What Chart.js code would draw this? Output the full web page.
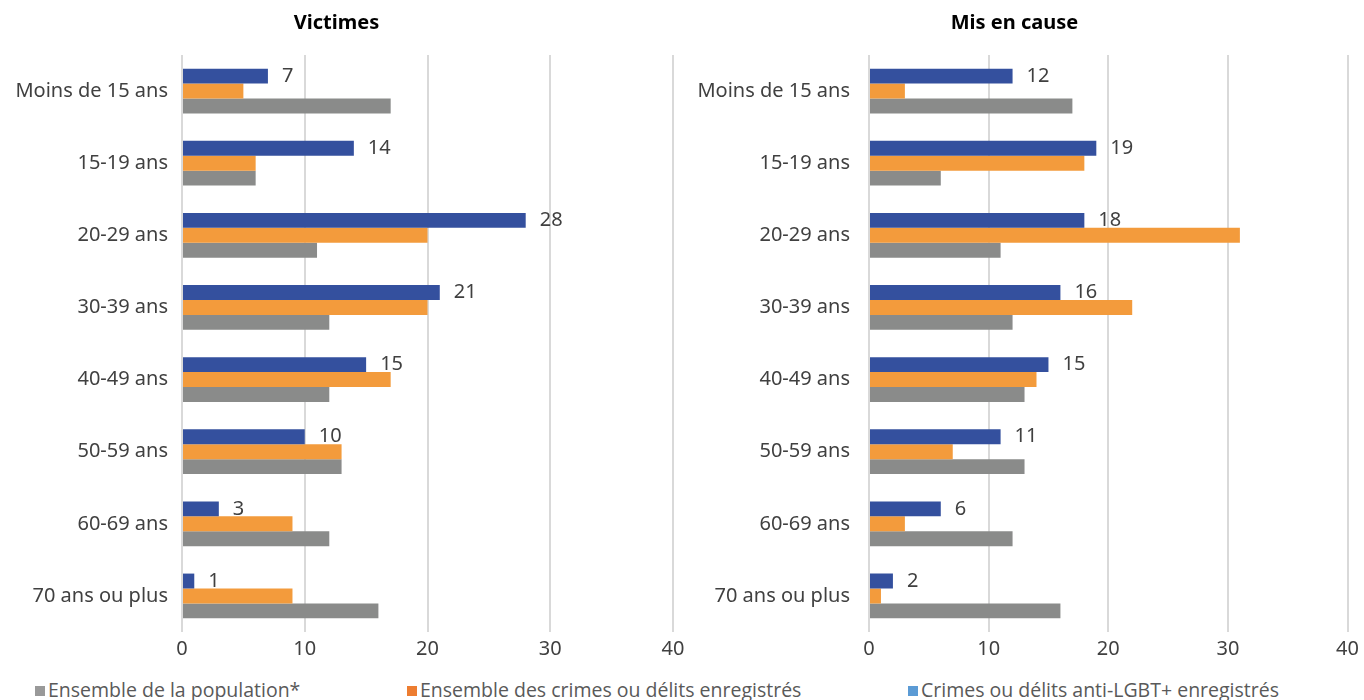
<!DOCTYPE html>
<html lang="fr">
<head>
<meta charset="utf-8">
<title>Victimes et mis en cause par âge</title>
<script src="https://cdn.jsdelivr.net/npm/chart.js@4.4.1/dist/chart.umd.min.js"></script>
<style>
  html, body { margin: 0; padding: 0; background: #fff; }
  body { width: 1364px; height: 700px; position: relative; overflow: hidden; font-family: "Open Sans", sans-serif; }
  .box { position: absolute; top: 0; height: 666px; }
  #boxLeft { left: 0; width: 690px; }
  #boxRight { left: 680px; width: 684px; }
  .legend-item { position: absolute; top: 678px; font-size: 19.5px; color: #595959; white-space: nowrap; line-height: 24px; }
  .legend-item span { display: inline-block; width: 10px; height: 10px; margin-right: 3px; vertical-align: 1px; }
</style>
</head>
<body>
<div class="box" id="boxLeft"><canvas id="chartVictimes"></canvas></div>
<div class="box" id="boxRight"><canvas id="chartMisEnCause"></canvas></div>

<div class="legend-item" style="left:35px"><span style="background:#999999"></span>Ensemble de la population*</div>
<div class="legend-item" style="left:407px"><span style="background:#ED7D31"></span>Ensemble des crimes ou délits enregistrés</div>
<div class="legend-item" style="left:908px"><span style="background:#5B9BD5"></span>Crimes ou délits anti-LGBT+ enregistrés</div>

<script>
// Tranches d'âge
const trancheAge = ['Moins de 15 ans', '15-19 ans', '20-29 ans', '30-39 ans', '40-49 ans', '50-59 ans', '60-69 ans', '70 ans ou plus'];
const ticksX = [0, 10, 20, 30, 40];

// Victimes (en %)
const victimesLGBT = [7, 14, 28, 21, 15, 10, 3, 1];
const victimesCrimes = [5, 6, 20, 20, 17, 13, 9, 9];
const victimesPopulation = [17, 6, 11, 12, 12, 13, 12, 16];

// Mis en cause (en %)
const misLGBT = [12, 19, 18, 16, 15, 11, 6, 2];
const misCrimes = [3, 18, 31, 22, 14, 7, 3, 1];
const misPopulation = [17, 6, 11, 12, 13, 13, 12, 16];

const BLEU = '#34509E';
const ORANGE = '#F39B3C';
const GRIS = '#8A8B8A';
const POLICE = '"Noto Sans", "Open Sans", sans-serif';

// Étiquettes de valeur sur les barres anti-LGBT+ seulement
const etiquettesLGBT = {
    id: 'etiquettesLGBT',
    afterDatasetsDraw(chart) {
        const ctx = chart.ctx;
        const meta = chart.getDatasetMeta(0);
        const valeurs = chart.data.datasets[0].data;
        ctx.save();
        ctx.font = '20px ' + POLICE;
        ctx.fillStyle = '#404040';
        ctx.textAlign = 'left';
        ctx.textBaseline = 'middle';
        meta.data.forEach((bar, i) => {
            ctx.fillText(valeurs[i], bar.x + 14, bar.y);
        });
        ctx.restore();
    }
};

function creerGraphique(idCanvas, titre, lgbt, crimes, population, largeurAxe, ecartLabels, margeDroite) {
    const ctx = document.getElementById(idCanvas).getContext('2d');
    return new Chart(ctx, {
        type: 'bar',
        data: {
            labels: trancheAge,
            datasets: [
                { label: 'Crimes ou délits anti-LGBT+ enregistrés', data: lgbt, backgroundColor: BLEU },
                { label: 'Ensemble des crimes ou délits enregistrés', data: crimes, backgroundColor: ORANGE },
                { label: 'Ensemble de la population*', data: population, backgroundColor: GRIS }
            ]
        },
        options: {
            indexAxis: 'y',
            responsive: true,
            maintainAspectRatio: false,
            animation: false,
            datasets: { bar: { barPercentage: 1, categoryPercentage: 0.62 } },
            layout: { padding: { top: 5, right: margeDroite, bottom: 0, left: 0 } },
            scales: {
                x: {
                    min: 0,
                    max: 40,
                    afterBuildTicks: (scale) => { scale.ticks = ticksX.map(v => ({ value: v })); },
                    grid: { color: '#D9D9D9', lineWidth: 2, drawTicks: false },
                    border: { display: false },
                    ticks: { color: '#404040', font: { family: POLICE, size: 20 }, padding: 5 }
                },
                y: {
                    grid: { display: false },
                    border: { display: false },
                    ticks: { color: '#404040', font: { family: POLICE, size: 20 }, padding: ecartLabels },
                    afterFit: (scale) => { scale.width = largeurAxe; }
                }
            },
            plugins: {
                legend: { display: false },
                tooltip: { enabled: false },
                title: {
                    display: true,
                    text: titre,
                    color: '#000',
                    font: { family: POLICE, size: 20, weight: 'bold' },
                    padding: { top: 6, bottom: 20 }
                }
            }
        },
        plugins: [etiquettesLGBT]
    });
}

creerGraphique('chartVictimes', 'Victimes', victimesLGBT, victimesCrimes, victimesPopulation, 182, 6, 17);
creerGraphique('chartMisEnCause', 'Mis en cause', misLGBT, misCrimes, misPopulation, 189, 11, 15);
</script>
</body>
</html>
